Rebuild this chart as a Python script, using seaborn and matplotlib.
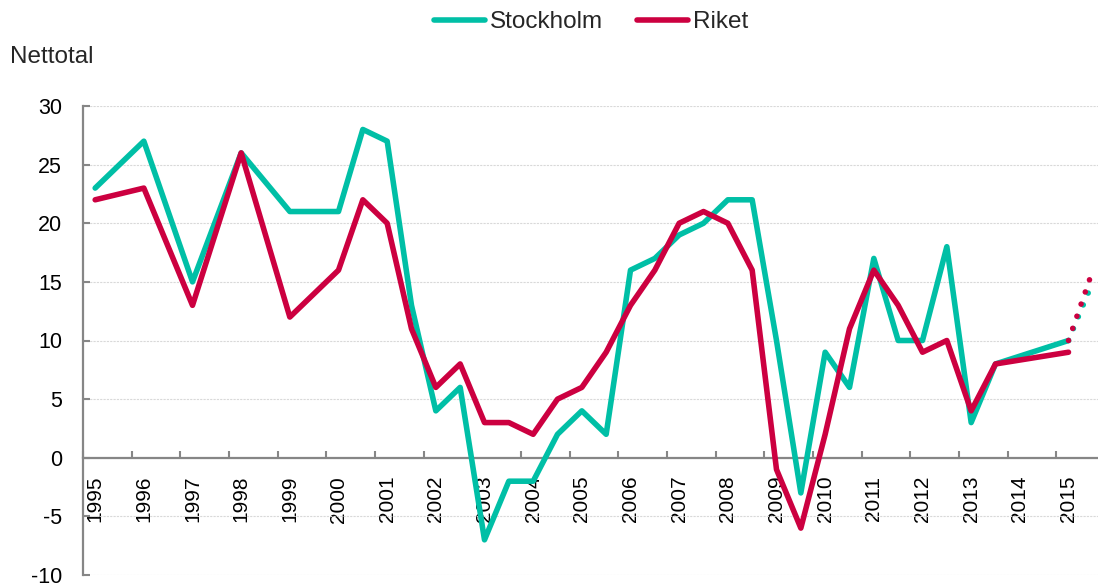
import matplotlib
matplotlib.use("Agg")
import matplotlib.pyplot as plt
from matplotlib.lines import Line2D
import seaborn as sns
import pandas as pd

# ---- data ----
# x positions in half-year steps from 1995 (0 = 1995, 2 = 1996, ...)
positions = [0, 2, 4, 6, 8, 10] + list(range(11, 38)) + [40]
stockholm = [23, 27, 15, 26, 21, 21,
             28, 27, 13, 4, 6, -7, -2, -2, 2, 4, 2, 16, 17, 19, 20, 22, 22,
             10, -3, 9, 6, 17, 10, 10, 18, 3, 8,
             10]
riket = [22, 23, 13, 26, 12, 16,
         22, 20, 11, 6, 8, 3, 3, 2, 5, 6, 9, 13, 16, 20, 21, 20, 16,
         -1, -6, 2, 11, 16, 13, 9, 10, 4, 8,
         9]
forecast_pos = [40, 41]
stockholm_fc = [10, 15]
riket_fc = [10, 16]
year_labels = [str(y) for y in range(1995, 2016)]
series_names = ["Stockholm", "Riket"]
y_ticks = [-10, -5, 0, 5, 10, 15, 20, 25, 30]

TEAL = "#00BFA6"
RED = "#CC0040"
AXIS = "#868686"

df = pd.DataFrame({"pos": positions, "Stockholm": stockholm, "Riket": riket})
df_fc = pd.DataFrame({"pos": forecast_pos, "Stockholm": stockholm_fc, "Riket": riket_fc})

sns.set_theme(style="white")
plt.rcParams["font.family"] = ["Liberation Sans", "DejaVu Sans"]

fig = plt.figure(figsize=(10.98, 5.83), dpi=100)
ax = fig.add_axes([83 / 1098, 8 / 583, (1105 - 83) / 1098, 469 / 583])

lw = 4.0
sns.lineplot(data=df, x="pos", y="Stockholm", ax=ax, color=TEAL, lw=lw,
             solid_capstyle="round", solid_joinstyle="round", zorder=3)
sns.lineplot(data=df, x="pos", y="Riket", ax=ax, color=RED, lw=lw,
             solid_capstyle="round", solid_joinstyle="round", zorder=4)
sns.lineplot(data=df_fc, x="pos", y="Stockholm", ax=ax, color=TEAL, lw=lw,
             linestyle=(0, (0.01, 2.3)), dash_capstyle="round", zorder=5)
sns.lineplot(data=df_fc, x="pos", y="Riket", ax=ax, color=RED, lw=lw,
             linestyle=(0, (0.01, 2.3)), dash_capstyle="round", zorder=6)

ax.set_xlim(-0.5, 41.5)
ax.set_ylim(-10, 30)
ax.set_xlabel("")
ax.set_ylabel("")

# spines
for s in ["top", "right"]:
    ax.spines[s].set_visible(False)
ax.spines["left"].set_color(AXIS)
ax.spines["left"].set_linewidth(1.6)
ax.spines["bottom"].set_position(("data", 0))
ax.spines["bottom"].set_color(AXIS)
ax.spines["bottom"].set_linewidth(1.6)
ax.spines["bottom"].set_zorder(2)

# y axis
ax.set_yticks(y_ticks)
ax.set_yticklabels([str(v) for v in y_ticks])
ax.tick_params(axis="y", direction="in", length=5, width=1.5, color=AXIS,
               labelsize=15.5, pad=15, labelcolor="black", left=True)
ax.yaxis.grid(True, color="#d9d9d9", linestyle=(0, (2, 1)), linewidth=0.8)
ax.set_axisbelow(True)

# x axis: labels at each year, tick marks between
label_pos = [2 * i for i in range(len(year_labels))]
ax.set_xticks(label_pos)
ax.set_xticklabels(year_labels, rotation=90)
ax.set_xticks([-0.5 + 2 * i for i in range(len(year_labels) + 1)], minor=True)
ax.tick_params(axis="x", which="major", length=0, labelsize=15, pad=13,
               labelcolor="black", bottom=True)
ax.tick_params(axis="x", which="minor", direction="in", length=5, width=1.5,
               color=AXIS, bottom=True)
ax.xaxis.grid(False)

# legend
handles = [Line2D([0], [0], color=TEAL, lw=lw, solid_capstyle="round"),
           Line2D([0], [0], color=RED, lw=lw, solid_capstyle="round")]
fig.legend(handles, series_names, loc="center", bbox_to_anchor=(591 / 1098, 1 - 22 / 583),
           ncol=2, frameon=False, fontsize=17.5, handlelength=2.1, handletextpad=0.2,
           columnspacing=1.4)

fig.text(10 / 1098, 1 - 57 / 583, "Nettotal", va="center", ha="left", fontsize=17.5)

fig.savefig("out.png", dpi=100)
